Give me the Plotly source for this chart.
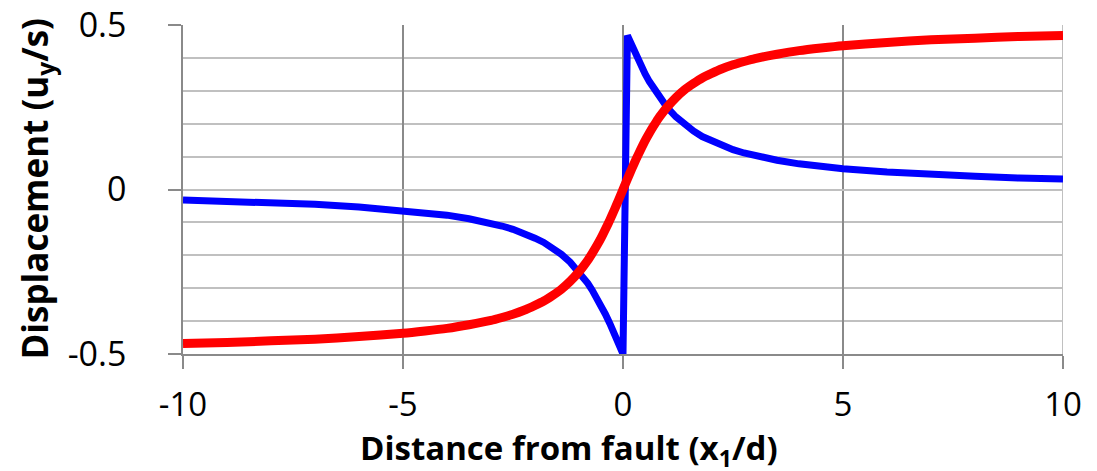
import plotly.graph_objects as go

# Data
x_vals = [-10, -9, -8, -7, -6, -5, -4.5, -4, -3.5, -3, -2.75, -2.5, -2.25, -2,
          -1.8, -1.6, -1.4, -1.2, -1, -0.9, -0.8, -0.7, -0.6, -0.5, -0.4, -0.3, -0.2, -0.1, 0,
          0.1, 0.2, 0.3, 0.4, 0.5, 0.6, 0.7, 0.8, 0.9, 1, 1.2, 1.4, 1.6, 1.8,
          2, 2.25, 2.5, 2.75, 3, 3.5, 4, 4.5, 5, 6, 7, 8, 9, 10]

red_vals = [-0.468, -0.465, -0.460, -0.455, -0.447, -0.437, -0.430, -0.422, -0.411, -0.398,
            -0.389, -0.379, -0.367, -0.352,
            -0.339, -0.322, -0.303, -0.279, -0.250, -0.233, -0.215, -0.194, -0.172, -0.148,
            -0.121, -0.093, -0.063, -0.032, 0.0,
            0.032, 0.063, 0.093, 0.121, 0.148, 0.172, 0.194, 0.215, 0.233, 0.250,
            0.279, 0.303, 0.322, 0.339,
            0.352, 0.367, 0.379, 0.389, 0.398, 0.411, 0.422, 0.430, 0.437, 0.447,
            0.455, 0.460, 0.465, 0.468]

blue_vals = [-0.032, -0.035, -0.040, -0.045, -0.053, -0.063, -0.070, -0.078, -0.089, -0.102,
             -0.111, -0.121, -0.133, -0.148,
             -0.161, -0.178, -0.197, -0.221, -0.250, -0.267, -0.285, -0.306, -0.328, -0.352,
             -0.379, -0.407, -0.437, -0.468, -0.500,
             0.468, 0.437, 0.407, 0.379, 0.352, 0.328, 0.306, 0.285, 0.267, 0.250,
             0.221, 0.197, 0.178, 0.161,
             0.148, 0.133, 0.121, 0.111, 0.102, 0.089, 0.078, 0.070, 0.063, 0.053,
             0.045, 0.040, 0.035, 0.032]

x_ticks = [-10, -5, 0, 5, 10]
x_tick_text = ["-10", "-5", "0", "5", "10"]
y_ticks = [-0.5, 0, 0.5]
y_tick_text = ["-0.5", "0", "0.5"]

x_title = "<b>Distance from fault (x<sub>1</sub>/d)</b>"
y_title = "<b>Displacement (u<sub>y</sub>/s)</b>"

FONT = "Open Sans"
DARK = "#8a8a8a"
LIGHT = "#c0c0c0"

fig = go.Figure()
fig.add_trace(go.Scatter(x=x_vals, y=blue_vals, mode="lines",
                         line=dict(color="#0000ff", width=7), hoverinfo="skip"))
fig.add_trace(go.Scatter(x=x_vals, y=red_vals, mode="lines",
                         line=dict(color="#ff0000", width=9, shape="spline", smoothing=0.6),
                         hoverinfo="skip"))

fig.update_layout(
    width=1097, height=471,
    margin=dict(l=183, r=34, t=25, b=117),
    paper_bgcolor="white", plot_bgcolor="white",
    showlegend=False,
    font=dict(family=FONT, color="black", size=34),
    xaxis=dict(range=[-10, 10], tickvals=x_ticks, ticktext=x_tick_text,
               showgrid=True, gridcolor=DARK, gridwidth=1.5,
               showline=True, linecolor=DARK, linewidth=1.5,
               ticks="outside", ticklen=13, tickcolor=DARK, tickwidth=1.5,
               zeroline=False, ticklabelstandoff=8, automargin=False,
               tickfont=dict(family=FONT, size=33, color="black")),
    yaxis=dict(range=[-0.5, 0.5], tickvals=y_ticks, ticktext=y_tick_text,
               showgrid=True, gridcolor=LIGHT, gridwidth=1.5,
               minor=dict(dtick=0.1, showgrid=True, gridcolor=LIGHT, gridwidth=1.5),
               showline=True, linecolor=DARK, linewidth=1.5,
               ticks="outside", ticklen=13, tickcolor=DARK, tickwidth=1.5,
               zeroline=False, ticklabelstandoff=35, automargin=False,
               tickfont=dict(family=FONT, size=34, color="black")),
    shapes=[dict(type="line", xref="x", yref="paper", x0=10, x1=10, y0=0, y1=1,
                 layer="below", line=dict(color=LIGHT, width=2))],
    annotations=[
        dict(text=x_title, xref="paper", yref="paper", x=0.439, y=-0.29,
             xanchor="center", yanchor="middle", showarrow=False,
             font=dict(family=FONT, size=33, color="black")),
        dict(text=y_title, xref="paper", yref="paper", x=-0.167, y=0.5,
             xanchor="center", yanchor="middle", showarrow=False, textangle=-90,
             font=dict(family=FONT, size=35, color="black")),
    ],
)

fig.write_html("out.html", config={"displayModeBar": False},
               post_script="document.body.style.margin='0';document.body.style.padding='0';")
